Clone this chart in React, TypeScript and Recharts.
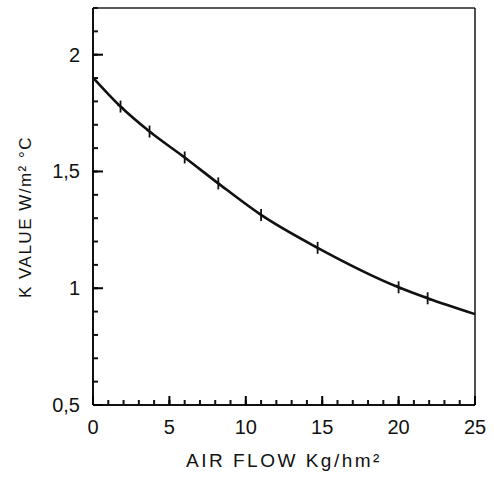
import React from 'react';
import { LineChart, Line, XAxis, YAxis, ReferenceLine } from 'recharts';

const airFlow = [0, 1.8, 3.7, 6.0, 8.2, 11.0, 14.7, 20.0, 21.9, 25];
const kValue = [1.902, 1.778, 1.671, 1.56, 1.449, 1.314, 1.173, 1.004, 0.957, 0.889];
const hasMarker = [false, true, true, true, true, true, true, true, true, false];

const xTicks = [0, 1, 2, 3, 4, 5, 6, 7, 8, 9, 10, 11, 12, 13, 14, 15, 16, 17, 18, 19, 20, 21, 22, 23, 24, 25];
const xMajor = [0, 5, 10, 15, 20, 25];
const yTicks = [0.5, 0.6, 0.7, 0.8, 0.9, 1.0, 1.1, 1.2, 1.3, 1.4, 1.5, 1.6, 1.7, 1.8, 1.9, 2.0, 2.1, 2.2];
const yMajorValues = [0.5, 1, 1.5, 2];
const yMajorLabels = ['0,5', '1', '1,5', '2'];

const data = airFlow.map((x, i) => ({ x, k: kValue[i], m: hasMarker[i] }));

const FONT = '"Liberation Sans", Arial, sans-serif';

const XTick = (props: any) => {
  const x = Number(props.x);
  const y = Number(props.y);
  const v = Number(props.payload.value);
  const major = xMajor.includes(v);
  return (
    <g>
      {major ? <rect x={x - 1} y={y - 9} width={2} height={9} fill="black" /> : null}
      {major ? (
        <text x={x} y={y + 29} textAnchor="middle" fontSize={20} fontFamily={FONT} fill="#111">
          {v}
        </text>
      ) : null}
    </g>
  );
};

const YTick = (props: any) => {
  const x = Number(props.x);
  const y = Number(props.y);
  const v = Number(props.payload.value);
  const idx = yMajorValues.findIndex((m) => Math.abs(m - v) < 1e-6);
  const major = idx >= 0;
  return (
    <g>
      {major ? <rect x={x} y={y - 1} width={10} height={2} fill="black" /> : null}
      {major ? (
        <text x={x - 13} y={y + 7} textAnchor="end" fontSize={20} fontFamily={FONT} fill="#111">
          {yMajorLabels[idx]}
        </text>
      ) : null}
    </g>
  );
};

const Marker = (props: any) => {
  const { cx, cy, payload } = props;
  if (!payload.m) return <g />;
  return (
    <g>
      <line x1={cx} x2={cx} y1={cy - 6} y2={cy + 6} stroke="#111" strokeWidth={1.8} />
      <line x1={cx - 3} x2={cx + 3} y1={cy - 2} y2={cy + 2} stroke="#111" strokeWidth={1.8} />
    </g>
  );
};

export default function App() {
  return (
    <div style={{ position: 'absolute', left: 0, top: 0, width: 494, height: 477, background: '#fff' }}>
      <LineChart width={494} height={477} data={data} margin={{ top: 8, right: 19, bottom: 0, left: 0 }}>
        <XAxis
          dataKey="x"
          type="number"
          domain={[0, 25]}
          ticks={xTicks}
          interval={0}
          tick={<XTick />}
          tickLine={{ stroke: '#111', strokeWidth: 2 }}
          tickSize={-5}
          tickMargin={5}
          height={72}
          axisLine={{ stroke: '#111', strokeWidth: 2 }}
        />
        <YAxis
          type="number"
          domain={[0.5, 2.2]}
          ticks={yTicks}
          interval={0}
          tick={<YTick />}
          tickLine={{ stroke: '#111', strokeWidth: 2 }}
          tickSize={-5}
          tickMargin={5}
          width={93}
          axisLine={{ stroke: '#111', strokeWidth: 2 }}
        />
        <ReferenceLine y={2.2} stroke="#222" strokeWidth={1.6} />
        <ReferenceLine x={25} stroke="#222" strokeWidth={1.6} />
        <Line
          type="monotone"
          dataKey="k"
          stroke="#111"
          strokeWidth={2.6}
          dot={<Marker />}
          activeDot={false}
          isAnimationActive={false}
        />
        <text x={284} y={467} textAnchor="middle" fontSize={19} letterSpacing={2.5} fontFamily={FONT} fill="#111">
          AIR FLOW Kg/hm²
        </text>
        <text
          x={0}
          y={0}
          transform="translate(31 217) rotate(-90)"
          textAnchor="middle"
          fontSize={17}
          letterSpacing={1.5}
          fontFamily={FONT}
          fill="#111"
        >
          K VALUE W/m² °C
        </text>
      </LineChart>
    </div>
  );
}
